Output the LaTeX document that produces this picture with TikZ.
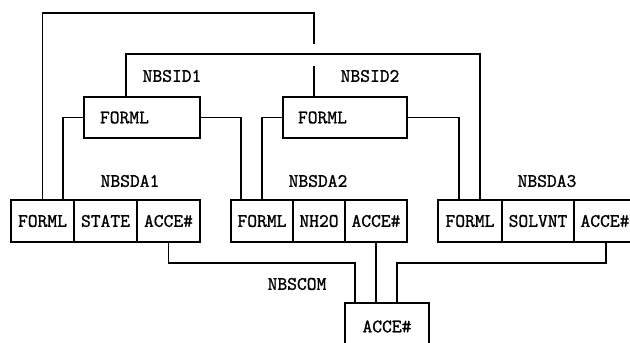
\documentclass[tikz,border=0pt]{standalone}
\usepackage{fontspec}
\setmonofont{Latin Modern Mono}[FakeBold=1.2]
\begin{document}
\begin{tikzpicture}[x=1pt,y=-1pt,
  tt/.style={font=\ttfamily\fontsize{19}{19}\selectfont},
  cell/.style={tt,draw,line width=1.4pt,minimum height=42pt,inner sep=0pt},
  fbox/.style={tt,draw,line width=1.4pt,minimum height=41pt,inner sep=0pt,align=left},
  lab/.style={tt,inner sep=0pt},
  conn/.style={line width=1.4pt}]
\useasboundingbox (0,0) rectangle (630,343);
\clip (0,0) rectangle (630,343);
% top FORML boxes
\node[fbox,minimum width=116pt,text width=84pt] (F1) at (142,117.5) {FORML};
\node[fbox,minimum width=124pt,text width=94pt] (F2) at (345,117.5) {FORML};
% table NBSDA1
\node[cell,minimum width=63pt] (f1a) at (42.5,221) {FORML};
\node[cell,minimum width=63pt] (s1) at (105.5,221) {STATE};
\node[cell,minimum width=63pt] (a1) at (168.5,221) {ACCE\#};
% table NBSDA2
\node[cell,minimum width=62pt] (f2a) at (262,221) {FORML};
\node[cell,minimum width=52pt] (n2) at (319,221) {NH2O};
\node[cell,minimum width=62pt] (a2) at (376,221) {ACCE\#};
% table NBSDA3
\node[cell,minimum width=64pt] (f3a) at (470,221) {FORML};
\node[cell,minimum width=72pt] (sv) at (538,221) {SOLVNT};
\node[cell,minimum width=62pt] (a3) at (605,221) {ACCE\#};
% NBSCOM box
\node[cell,minimum width=84pt,minimum height=47pt] (B) at (387,326.5) {ACCE\#};
% labels
\node[lab] (l1) at (172,76) {NBSID1};
\node[lab] (l2) at (370,76) {NBSID2};
\node[lab] (l3) at (130,181) {NBSDA1};
\node[lab] (l4) at (318,181) {NBSDA2};
\node[lab] (l5) at (547,181) {NBSDA3};
\node[lab] (l6) at (297,284) {NBSCOM};
% helper coordinates
\coordinate (k1) at (314,13);
\coordinate (hopA) at (314,44);
\coordinate (hopB) at (314,66);
\coordinate (k2) at (480,54);
\coordinate (k3) at (355,263);
\coordinate (k4) at (397,263);
% connectors
\draw[conn] (f1a.north) |- (k1) -- (hopA);
\draw[conn] (hopB) -- (hopB |- F2.north);
\draw[conn] ([xshift=-16pt]F1.north) |- (k2) -- (k2 |- f3a.north);
\draw[conn] (F1.west) -| ([xshift=20.5pt]f1a.north);
\draw[conn] (F1.east) -| ([xshift=-21pt]f2a.north);
\draw[conn] (F2.west) -| (f2a.north);
\draw[conn] (F2.east) -| ([xshift=-11pt]f3a.north);
\draw[conn] (a1.south) |- (k3) -- (k3 |- B.north);
\draw[conn] (a2.south) -- (a2.south |- B.north);
\draw[conn] ([xshift=1pt]a3.south) |- (k4) -- (k4 |- B.north);
\end{tikzpicture}
\end{document}
